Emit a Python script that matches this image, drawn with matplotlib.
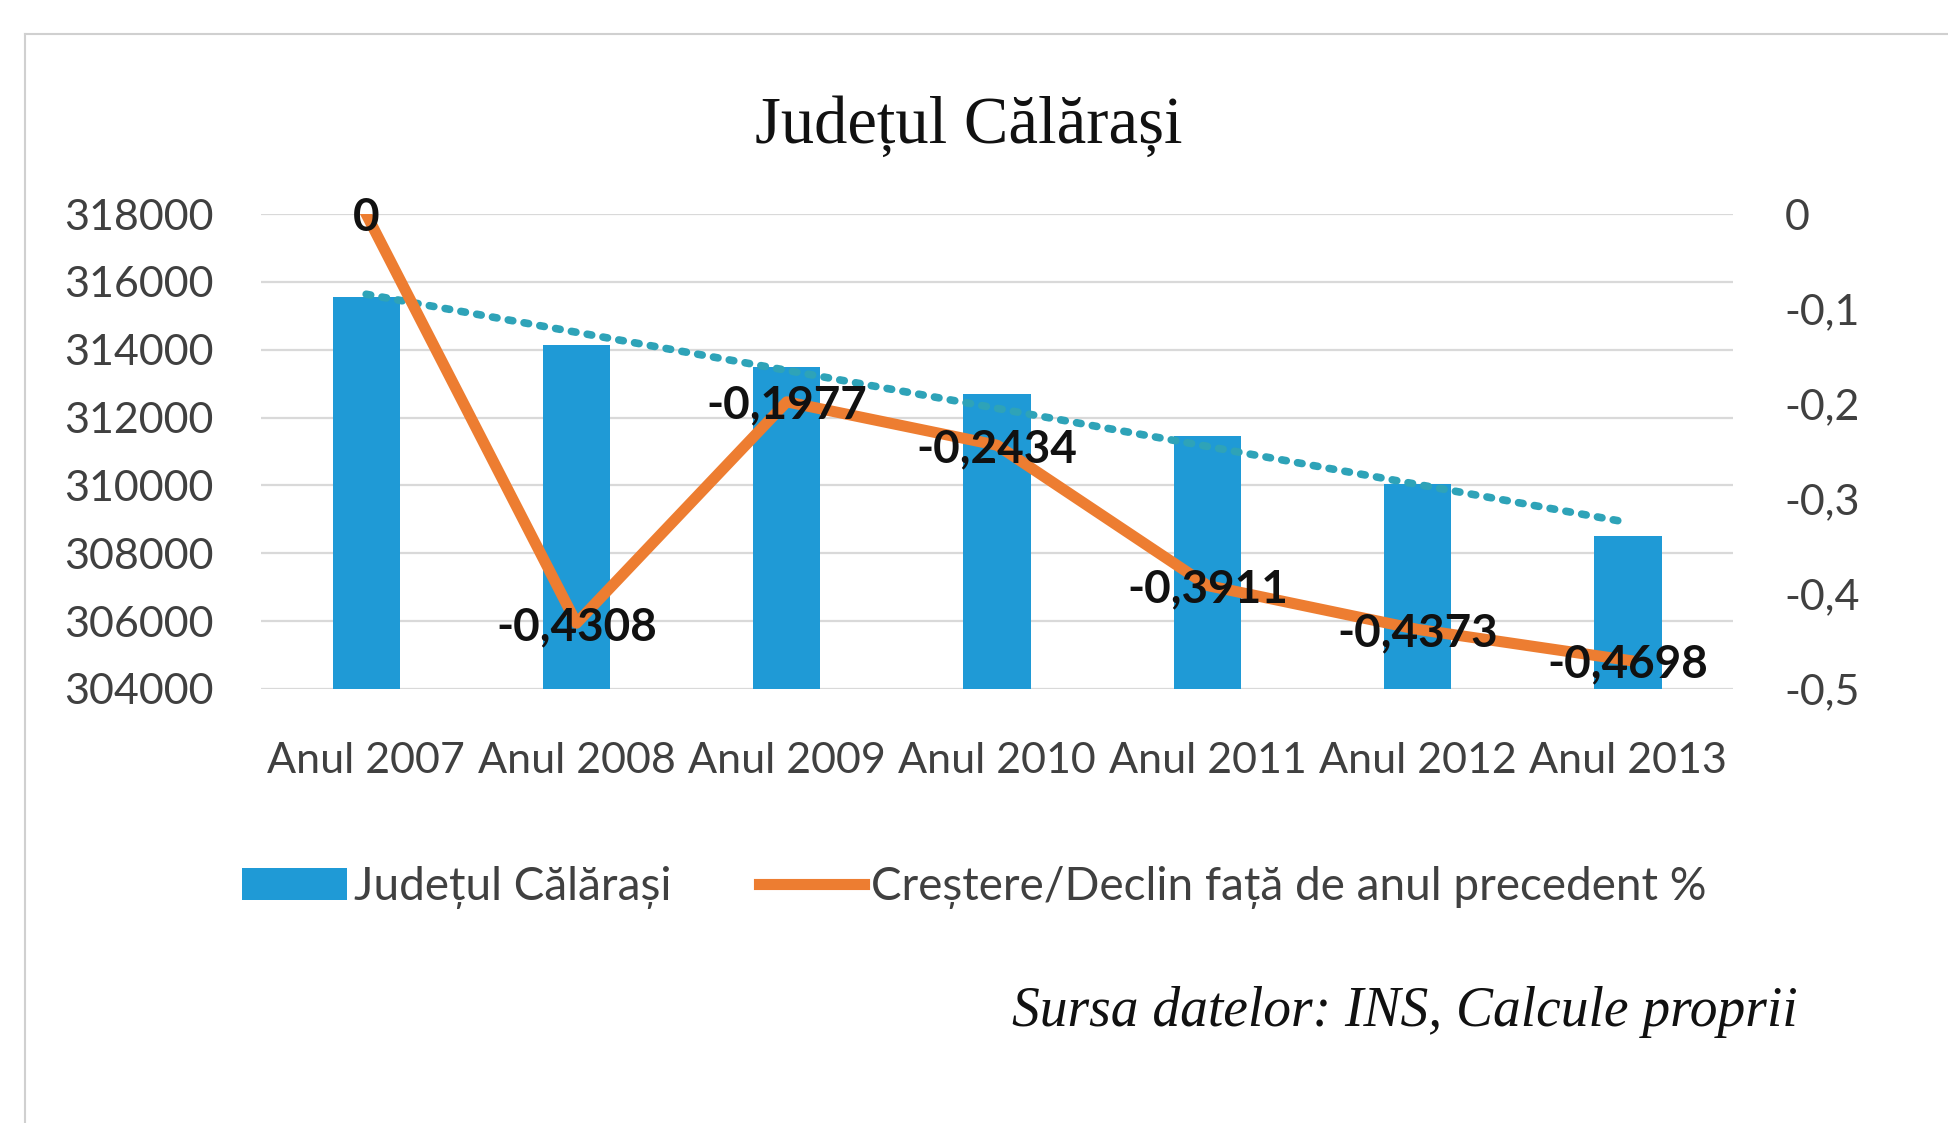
import numpy as np
import matplotlib
matplotlib.use("Agg")
import matplotlib.pyplot as plt
from matplotlib.lines import Line2D
from matplotlib.ticker import FuncFormatter

plt.rcParams["font.family"] = ["Lato", "DejaVu Sans"]

# date
ani = ["Anul 2007", "Anul 2008", "Anul 2009", "Anul 2010", "Anul 2011", "Anul 2012", "Anul 2013"]
populatie = [315550, 314150, 313500, 312700, 311450, 310050, 308500]
crestere = [0, -0.4308, -0.1977, -0.2434, -0.3911, -0.4373, -0.4698]

albastru = "#1f9ad6"
portocaliu = "#ed7d31"
gri_text = "#404040"

fig = plt.figure(figsize=(19.48, 11.23), dpi=100)
ax = fig.add_axes([0.134, 0.3865, 0.7557, 0.4229])
x = np.arange(len(ani))

ax.bar(x, np.array(populatie) - 304000, bottom=304000, width=0.32, color=albastru,
       label="Județul Călărași", zorder=2)

# linie de tendinta (liniara, ca in Excel)
k, b = np.polyfit(x, populatie, 1)
ax.plot(x, k * x + b, color="#2ea3b8", lw=5.5, linestyle=(0, (0.6, 1.5)),
        dash_capstyle="round", zorder=3)

ax.set_xlim(-0.5, len(ani) - 0.5)
ax.set_ylim(304000, 318000)
ax.set_yticks(np.arange(304000, 318001, 2000))
ax.set_xticks(x)
ax.set_xticklabels(ani)
ax.grid(axis="y", color="#d9d9d9", lw=1.6, zorder=0)
ax.set_axisbelow(True)
for s in ax.spines.values():
    s.set_visible(False)
ax.tick_params(axis="y", length=0, pad=34, labelsize=31, labelcolor=gri_text)
ax.tick_params(axis="x", length=0, pad=38, labelsize=31, labelcolor=gri_text)

ax2 = ax.twinx()
ax2.plot(x, crestere, color=portocaliu, lw=8, solid_joinstyle="round",
         label="Creștere/Declin față de anul precedent %", zorder=4)
for xi, v in zip(x, crestere):
    txt = "0" if v == 0 else f"{v:.4f}".replace(".", ",")
    ax2.text(xi, v - 0.004, txt, ha="center", va="center", fontsize=33, fontweight="bold",
             color="#111111", zorder=5)
ax2.set_ylim(-0.5, 0)
ax2.set_yticks(np.arange(-0.5, 0.01, 0.1))
ax2.yaxis.set_major_formatter(FuncFormatter(
    lambda v, p: "0" if abs(v) < 1e-9 else f"{v:.1f}".replace(".", ",")))
for s in ax2.spines.values():
    s.set_visible(False)
ax2.tick_params(axis="y", length=0, pad=37, labelsize=31, labelcolor=gri_text)

fig.text(0.4975, 0.888, "Județul Călărași", ha="center", va="center",
         family="Liberation Serif", fontsize=48, color="#111111")

h1, l1 = ax.get_legend_handles_labels()
h2, l2 = ax2.get_legend_handles_labels()
fig.legend(h1 + h2, l1 + l2, loc="center", bbox_to_anchor=(0.5, 0.21), ncol=2,
           frameon=False, fontsize=33, handlelength=2.3, handletextpad=0.15,
           columnspacing=1.9, labelcolor=gri_text)

fig.text(0.5195, 0.0988, "Sursa datelor: INS, Calcule proprii", ha="left", va="center",
         family="Liberation Serif", style="italic", fontsize=40, color="#111111")

# chenarul graficului
fig.add_artist(Line2D([0.013, 1.0], [0.970, 0.970], color="#d0d0d0", lw=1.5))
fig.add_artist(Line2D([0.013, 0.013], [0.0, 0.970], color="#d0d0d0", lw=1.5))

fig.savefig("out.png", dpi=100)
